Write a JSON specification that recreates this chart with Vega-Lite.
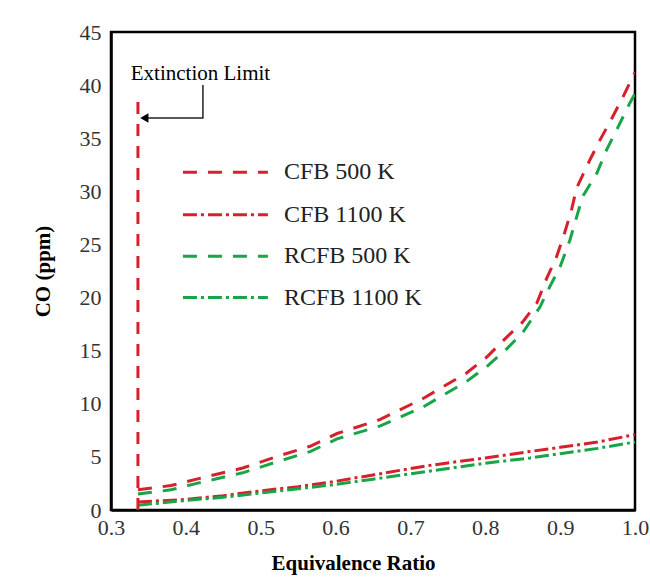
{
  "$schema": "https://vega.github.io/schema/vega-lite/v6.json",
  "width": 524,
  "height": 478,
  "autosize": "none",
  "padding": {"left": 111, "top": 32, "right": 15, "bottom": 69},
  "background": "white",
  "config": {
    "view": {"stroke": "black", "strokeWidth": 2.5},
    "font": "Liberation Serif"
  },
  "datasets": {
    "curves": [
      {"series": "CFB 500 K", "x": 0.336, "y": 1.9},
      {"series": "CFB 500 K", "x": 0.38, "y": 2.3},
      {"series": "CFB 500 K", "x": 0.42, "y": 3.0},
      {"series": "CFB 500 K", "x": 0.476, "y": 3.95},
      {"series": "CFB 500 K", "x": 0.52, "y": 5.0},
      {"series": "CFB 500 K", "x": 0.566, "y": 6.0},
      {"series": "CFB 500 K", "x": 0.602, "y": 7.2},
      {"series": "CFB 500 K", "x": 0.659, "y": 8.5},
      {"series": "CFB 500 K", "x": 0.717, "y": 10.5},
      {"series": "CFB 500 K", "x": 0.775, "y": 12.9},
      {"series": "CFB 500 K", "x": 0.802, "y": 14.4},
      {"series": "CFB 500 K", "x": 0.829, "y": 16.3},
      {"series": "CFB 500 K", "x": 0.85, "y": 17.7},
      {"series": "CFB 500 K", "x": 0.869, "y": 19.5},
      {"series": "CFB 500 K", "x": 0.882, "y": 21.8},
      {"series": "CFB 500 K", "x": 0.895, "y": 23.8},
      {"series": "CFB 500 K", "x": 0.906, "y": 26.1},
      {"series": "CFB 500 K", "x": 0.915, "y": 28.2},
      {"series": "CFB 500 K", "x": 0.922, "y": 30.3},
      {"series": "CFB 500 K", "x": 0.94, "y": 33.0},
      {"series": "CFB 500 K", "x": 0.953, "y": 34.8},
      {"series": "CFB 500 K", "x": 0.97, "y": 37.0},
      {"series": "CFB 500 K", "x": 0.984, "y": 38.9},
      {"series": "CFB 500 K", "x": 1.0, "y": 41.2},
      {"series": "CFB 1100 K", "x": 0.336, "y": 0.75},
      {"series": "CFB 1100 K", "x": 0.4, "y": 1.0},
      {"series": "CFB 1100 K", "x": 0.45, "y": 1.35},
      {"series": "CFB 1100 K", "x": 0.5, "y": 1.8},
      {"series": "CFB 1100 K", "x": 0.55, "y": 2.2},
      {"series": "CFB 1100 K", "x": 0.6, "y": 2.7},
      {"series": "CFB 1100 K", "x": 0.65, "y": 3.3},
      {"series": "CFB 1100 K", "x": 0.7, "y": 3.9},
      {"series": "CFB 1100 K", "x": 0.726, "y": 4.2},
      {"series": "CFB 1100 K", "x": 0.8, "y": 4.9},
      {"series": "CFB 1100 K", "x": 0.859, "y": 5.5},
      {"series": "CFB 1100 K", "x": 0.9, "y": 5.9},
      {"series": "CFB 1100 K", "x": 0.95, "y": 6.4},
      {"series": "CFB 1100 K", "x": 1.0, "y": 7.1},
      {"series": "RCFB 500 K", "x": 0.336, "y": 1.5},
      {"series": "RCFB 500 K", "x": 0.38, "y": 1.9},
      {"series": "RCFB 500 K", "x": 0.42, "y": 2.6},
      {"series": "RCFB 500 K", "x": 0.476, "y": 3.5},
      {"series": "RCFB 500 K", "x": 0.52, "y": 4.5},
      {"series": "RCFB 500 K", "x": 0.566, "y": 5.5},
      {"series": "RCFB 500 K", "x": 0.602, "y": 6.7},
      {"series": "RCFB 500 K", "x": 0.659, "y": 7.9},
      {"series": "RCFB 500 K", "x": 0.717, "y": 9.7},
      {"series": "RCFB 500 K", "x": 0.775, "y": 12.1},
      {"series": "RCFB 500 K", "x": 0.802, "y": 13.5},
      {"series": "RCFB 500 K", "x": 0.829, "y": 15.2},
      {"series": "RCFB 500 K", "x": 0.85, "y": 16.7},
      {"series": "RCFB 500 K", "x": 0.873, "y": 19.1},
      {"series": "RCFB 500 K", "x": 0.886, "y": 21.0},
      {"series": "RCFB 500 K", "x": 0.9, "y": 22.9},
      {"series": "RCFB 500 K", "x": 0.913, "y": 25.4},
      {"series": "RCFB 500 K", "x": 0.93, "y": 29.5},
      {"series": "RCFB 500 K", "x": 0.949, "y": 31.7},
      {"series": "RCFB 500 K", "x": 0.962, "y": 33.9},
      {"series": "RCFB 500 K", "x": 0.977, "y": 36.0},
      {"series": "RCFB 500 K", "x": 0.993, "y": 38.3},
      {"series": "RCFB 500 K", "x": 1.0, "y": 39.2},
      {"series": "RCFB 1100 K", "x": 0.336, "y": 0.45},
      {"series": "RCFB 1100 K", "x": 0.4, "y": 0.9},
      {"series": "RCFB 1100 K", "x": 0.45, "y": 1.2},
      {"series": "RCFB 1100 K", "x": 0.5, "y": 1.6},
      {"series": "RCFB 1100 K", "x": 0.55, "y": 2.0},
      {"series": "RCFB 1100 K", "x": 0.6, "y": 2.4},
      {"series": "RCFB 1100 K", "x": 0.65, "y": 2.9},
      {"series": "RCFB 1100 K", "x": 0.7, "y": 3.4},
      {"series": "RCFB 1100 K", "x": 0.8, "y": 4.4},
      {"series": "RCFB 1100 K", "x": 0.86, "y": 4.9},
      {"series": "RCFB 1100 K", "x": 0.9, "y": 5.3},
      {"series": "RCFB 1100 K", "x": 0.95, "y": 5.8},
      {"series": "RCFB 1100 K", "x": 1.0, "y": 6.4}
    ],
    "legend": [
      {"series": "CFB 500 K", "x": 0.3961, "x2": 0.5096, "tx": 0.531, "y": 31.8},
      {"series": "CFB 1100 K", "x": 0.3961, "x2": 0.5096, "tx": 0.531, "y": 27.8},
      {"series": "RCFB 500 K", "x": 0.3961, "x2": 0.5096, "tx": 0.531, "y": 23.9},
      {"series": "RCFB 1100 K", "x": 0.3961, "x2": 0.5096, "tx": 0.531, "y": 20.0}
    ],
    "limit": [{"series": "CFB 500 K", "x": 0.336, "y": 0, "y2": 38.6}],
    "arrow": [
      {"o": 1, "x": 0.4228, "y": 40.0},
      {"o": 2, "x": 0.4228, "y": 36.9},
      {"o": 3, "x": 0.345, "y": 36.9}
    ],
    "arrowhead": [{"x": 0.3445, "y": 36.9}],
    "label": [{"x": 0.4195, "y": 41.0, "text": "Extinction Limit"}],
    "xmajor": [{"x": 0.4}, {"x": 0.5}, {"x": 0.6}, {"x": 0.7}, {"x": 0.8}, {"x": 0.9}],
    "xminor": [
      {"x": 0.32}, {"x": 0.34}, {"x": 0.36}, {"x": 0.38},
      {"x": 0.42}, {"x": 0.44}, {"x": 0.46}, {"x": 0.48},
      {"x": 0.52}, {"x": 0.54}, {"x": 0.56}, {"x": 0.58},
      {"x": 0.62}, {"x": 0.64}, {"x": 0.66}, {"x": 0.68},
      {"x": 0.72}, {"x": 0.74}, {"x": 0.76}, {"x": 0.78},
      {"x": 0.82}, {"x": 0.84}, {"x": 0.86}, {"x": 0.88},
      {"x": 0.92}, {"x": 0.94}, {"x": 0.96}, {"x": 0.98}
    ],
    "ymajor": [{"y": 5}, {"y": 10}, {"y": 15}, {"y": 20}, {"y": 25}, {"y": 30}, {"y": 35}, {"y": 40}],
    "yminor": [
      {"y": 1}, {"y": 2}, {"y": 3}, {"y": 4},
      {"y": 6}, {"y": 7}, {"y": 8}, {"y": 9},
      {"y": 11}, {"y": 12}, {"y": 13}, {"y": 14},
      {"y": 16}, {"y": 17}, {"y": 18}, {"y": 19},
      {"y": 21}, {"y": 22}, {"y": 23}, {"y": 24},
      {"y": 26}, {"y": 27}, {"y": 28}, {"y": 29},
      {"y": 31}, {"y": 32}, {"y": 33}, {"y": 34},
      {"y": 36}, {"y": 37}, {"y": 38}, {"y": 39},
      {"y": 41}, {"y": 42}, {"y": 43}, {"y": 44}
    ]
  },
  "encoding": {
    "x": {
      "field": "x", "type": "quantitative",
      "scale": {"domain": [0.3, 1.0], "nice": false, "zero": false},
      "axis": {
        "title": "Equivalence Ratio",
        "titleFont": "Liberation Serif", "titleFontSize": 21, "titleFontWeight": "bold",
        "titleColor": "black", "titlePadding": 14, "titleX": 242,
        "values": [0.3, 0.4, 0.5, 0.6, 0.7, 0.8, 0.9, 1.0],
        "format": ".1f",
        "labelOverlap": false, "labelFlush": false,
        "labelFont": "Liberation Serif", "labelFontSize": 22, "labelColor": "#333",
        "labelPadding": 7,
        "ticks": false,
        "domainColor": "black", "domainWidth": 2.5,
        "grid": false
      }
    },
    "y": {
      "field": "y", "type": "quantitative",
      "scale": {"domain": [0, 45], "nice": false},
      "axis": {
        "title": "CO (ppm)",
        "titleFont": "Liberation Serif", "titleFontSize": 21, "titleFontWeight": "bold",
        "titleColor": "black", "titlePadding": 26,
        "values": [0, 5, 10, 15, 20, 25, 30, 35, 40, 45],
        "labelOverlap": false, "labelFlush": false,
        "labelFont": "Liberation Serif", "labelFontSize": 22, "labelColor": "#333",
        "labelPadding": 10,
        "ticks": false,
        "domainColor": "black", "domainWidth": 2.5,
        "grid": false
      }
    }
  },
  "layer": [
    {
      "data": {"name": "xmajor"},
      "mark": {"type": "tick", "orient": "vertical", "size": 24, "thickness": 2.5, "color": "black", "opacity": 1, "clip": true},
      "encoding": {"y": {"datum": 0, "type": "quantitative"}}
    },
    {
      "data": {"name": "xminor"},
      "mark": {"type": "tick", "orient": "vertical", "size": 13, "thickness": 1.5, "color": "black", "opacity": 1, "clip": true},
      "encoding": {"y": {"datum": 0, "type": "quantitative"}}
    },
    {
      "data": {"name": "ymajor"},
      "mark": {"type": "tick", "orient": "horizontal", "size": 24, "thickness": 2.5, "color": "black", "opacity": 1, "clip": true},
      "encoding": {"x": {"datum": 0.3, "type": "quantitative"}}
    },
    {
      "data": {"name": "yminor"},
      "mark": {"type": "tick", "orient": "horizontal", "size": 13, "thickness": 1.5, "color": "black", "opacity": 1, "clip": true},
      "encoding": {"x": {"datum": 0.3, "type": "quantitative"}}
    },
    {
      "data": {"name": "curves"},
      "mark": {"type": "line", "strokeWidth": 3, "clip": true},
      "encoding": {
        "color": {"field": "series", "type": "nominal", "legend": null,
          "scale": {"domain": ["CFB 500 K", "CFB 1100 K", "RCFB 500 K", "RCFB 1100 K"], "range": ["#d6202b", "#d6202b", "#18a548", "#18a548"]}},
        "strokeDash": {"field": "series", "type": "nominal", "legend": null,
          "scale": {"domain": ["CFB 500 K", "CFB 1100 K", "RCFB 500 K", "RCFB 1100 K"], "range": [[14, 11], [14, 4, 3, 4], [14, 11], [14, 4, 3, 4]]}}
      }
    },
    {
      "data": {"name": "limit"},
      "mark": {"type": "rule", "strokeWidth": 3, "color": "#d6202b", "strokeDash": [12, 10]},
      "encoding": {"y2": {"field": "y2"}}
    },
    {
      "data": {"name": "arrow"},
      "mark": {"type": "line", "strokeWidth": 1.5, "color": "#222"},
      "encoding": {"order": {"field": "o", "type": "quantitative"}}
    },
    {
      "data": {"name": "arrowhead"},
      "mark": {"type": "point", "shape": "triangle-left", "filled": true, "color": "black", "size": 90, "opacity": 1}
    },
    {
      "data": {"name": "label"},
      "mark": {"type": "text", "font": "Liberation Serif", "fontSize": 21, "color": "black", "align": "center", "baseline": "middle"},
      "encoding": {"text": {"field": "text"}}
    },
    {
      "data": {"name": "legend"},
      "mark": {"type": "rule", "strokeWidth": 3},
      "encoding": {
        "x2": {"field": "x2"},
        "color": {"field": "series", "type": "nominal", "legend": null},
        "strokeDash": {"field": "series", "type": "nominal", "legend": null}
      }
    },
    {
      "data": {"name": "legend"},
      "mark": {"type": "text", "font": "Liberation Serif", "fontSize": 24, "color": "#222", "align": "left", "baseline": "middle"},
      "encoding": {
        "x": {"field": "tx", "type": "quantitative"},
        "text": {"field": "series"}
      }
    }
  ]
}
